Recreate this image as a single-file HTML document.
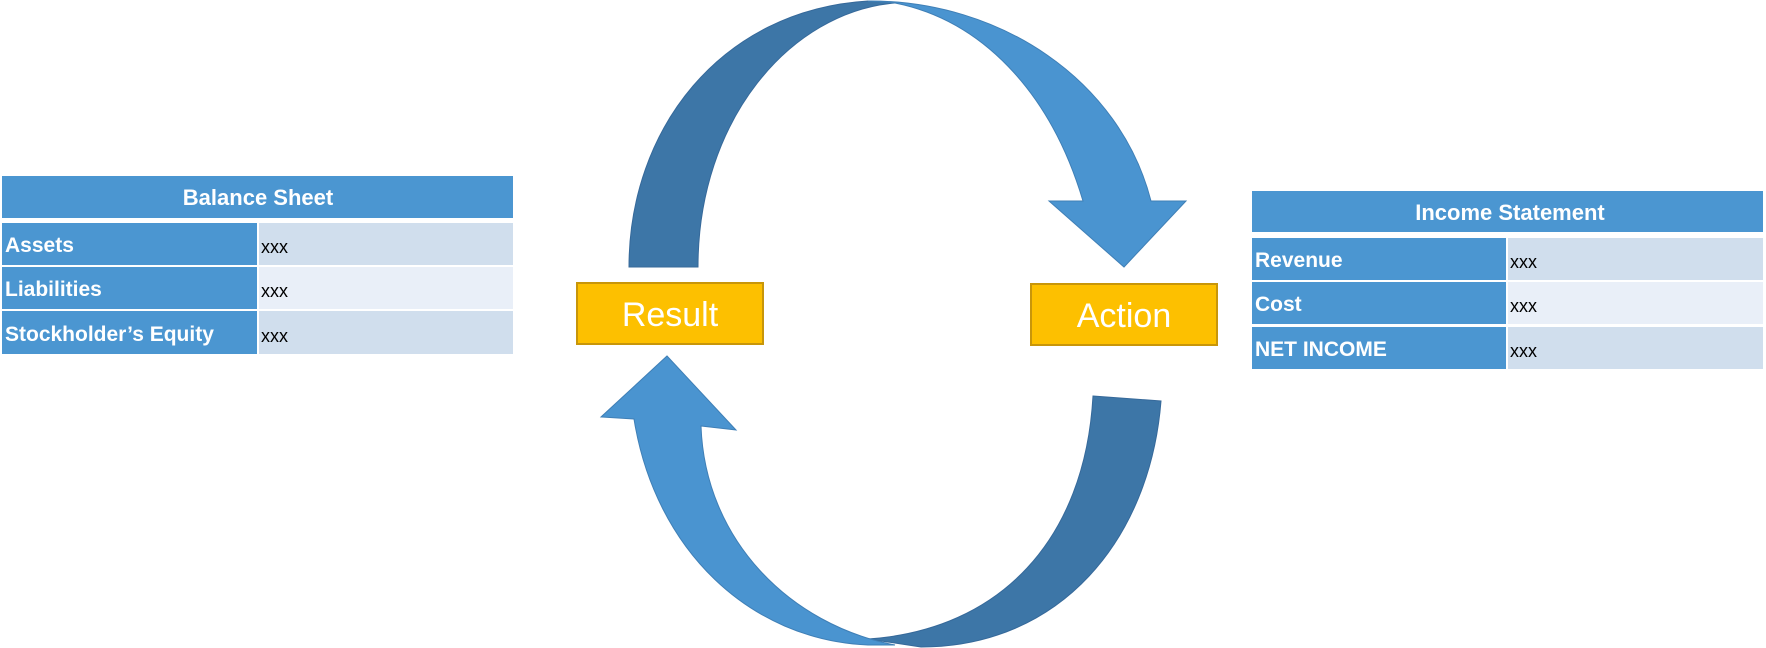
<!DOCTYPE html>
<html><head><meta charset="utf-8"><style>
html,body{margin:0;padding:0;background:#fff;}
svg{display:block}
text{font-family:"Liberation Sans",sans-serif;}
</style></head><body>
<svg width="1766" height="648" viewBox="0 0 1766 648" xmlns="http://www.w3.org/2000/svg">
<!-- top arrow -->
<path d="M629,267 C629,130 720,10 868,1 L895,3 C790,12 698,120 698,267 Z" fill="#3d76a7" stroke="#36699a" stroke-width="1"/>
<path d="M868,1 C1000,0 1120,80 1151,201 L1186,201 L1124,267 L1049,201 L1083,201 C1050,90 980,20 895,3 Z" fill="#4a94d0" stroke="#3f7fb6" stroke-width="1"/>
<!-- bottom arrow -->
<path d="M1093,396 L1161,401 C1150,540 1060,647 921,647 L868,639 C1000,630 1085,540 1093,396 Z" fill="#3d76a7" stroke="#36699a" stroke-width="1"/>
<path d="M634,419 C655,550 750,640 868,645 L895,645 C790,625 705,540 701,426 L736,430 L667,356 L601,417 Z" fill="#4a94d0" stroke="#3f7fb6" stroke-width="1"/>
<!-- boxes -->
<rect x="577" y="283" width="186" height="61" fill="#fdc000" stroke="#c8960a" stroke-width="2"/>
<text x="670" y="326" font-size="34" fill="#fff" text-anchor="middle">Result</text>
<rect x="1031" y="284" width="186" height="61" fill="#fdc000" stroke="#c8960a" stroke-width="2"/>
<text x="1124" y="327" font-size="34" fill="#fff" text-anchor="middle">Action</text>
<!-- balance sheet -->
<rect x="2" y="176" width="511" height="42" fill="#4b96d1"/>
<text x="258" y="205" font-size="22" font-weight="bold" fill="#fff" text-anchor="middle">Balance Sheet</text>
<rect x="2" y="223" width="255" height="42" fill="#4b96d1"/><rect x="259" y="223" width="254" height="42" fill="#d0deed"/>
<rect x="2" y="267" width="255" height="42" fill="#4b96d1"/><rect x="259" y="267" width="254" height="42" fill="#e9eff8"/>
<rect x="2" y="311" width="255" height="43" fill="#4b96d1"/><rect x="259" y="311" width="254" height="43" fill="#d0deed"/>
<g font-size="21" font-weight="bold" fill="#fff">
<text x="5" y="252">Assets</text><text x="5" y="296">Liabilities</text><text x="5" y="341">Stockholder’s Equity</text></g>
<g font-size="18" fill="#000">
<text x="261" y="253">xxx</text><text x="261" y="297">xxx</text><text x="261" y="342">xxx</text></g>
<!-- income statement -->
<rect x="1252" y="191" width="511" height="41" fill="#4b96d1"/>
<text x="1510" y="220" font-size="22" font-weight="bold" fill="#fff" text-anchor="middle">Income Statement</text>
<rect x="1252" y="238" width="254" height="42" fill="#4b96d1"/><rect x="1508" y="238" width="255" height="42" fill="#d0deed"/>
<rect x="1252" y="282" width="254" height="42" fill="#4b96d1"/><rect x="1508" y="282" width="255" height="42" fill="#e9eff8"/>
<rect x="1252" y="327" width="254" height="42" fill="#4b96d1"/><rect x="1508" y="327" width="255" height="42" fill="#d0deed"/>
<g font-size="21" font-weight="bold" fill="#fff">
<text x="1255" y="267">Revenue</text><text x="1255" y="311">Cost</text><text x="1255" y="356">NET INCOME</text></g>
<g font-size="18" fill="#000">
<text x="1510" y="268">xxx</text><text x="1510" y="312">xxx</text><text x="1510" y="357">xxx</text></g>
</svg>
</body></html>
